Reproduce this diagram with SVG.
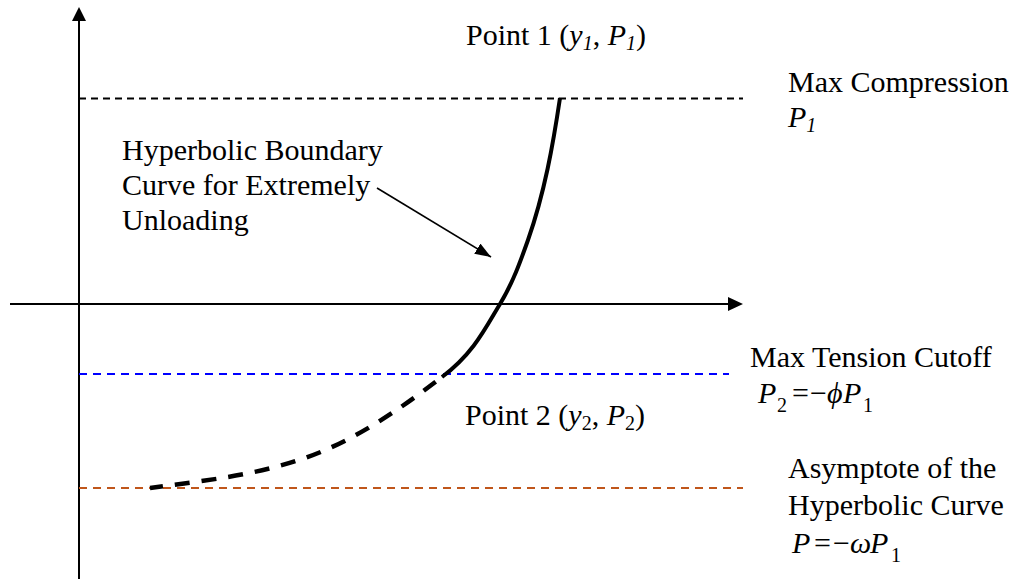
<svg xmlns="http://www.w3.org/2000/svg" width="1016" height="579" viewBox="0 0 1016 579">
<style>
text{font-family:"Liberation Serif","Times New Roman",serif;font-size:30px;fill:#000}
.it{font-style:italic}
.sub{font-size:20px}
.axis{stroke:#000;stroke-width:2;fill:none}
.ref{stroke-width:2;fill:none}
</style>
<defs>
<marker id="ah" markerWidth="16" markerHeight="12" refX="16" refY="6" orient="auto" markerUnits="userSpaceOnUse">
<path d="M0,0 L16,6 L0,12 Z" fill="#000"/>
</marker>
</defs>
<rect width="1016" height="579" fill="#fff"/>
<g id="axes">
<line class="axis" x1="79" y1="579" x2="79" y2="18"/>
<polygon points="79,7 72,21 86,21" fill="#000"/>
<line class="axis" x1="10" y1="304" x2="732" y2="304"/>
<polygon points="743,304 728,297 728,311" fill="#000"/>
</g>
<g id="reference-lines">
<line class="ref" x1="79" y1="98.5" x2="743" y2="98.5" stroke="#000" stroke-width="1.6" stroke-dasharray="7 5"/>
<line class="ref" x1="79" y1="374" x2="729" y2="374" stroke="#0000ff" stroke-dasharray="8 6"/>
<line class="ref" x1="79" y1="488" x2="743" y2="488" stroke="#c0561b" stroke-dasharray="8 6"/>
</g>
<g id="curve">
<path d="M560,98 C553,145 544.5,193 528,240 C520.6,261 512.8,283 500,304 C486,327 474,353 442,377" fill="none" stroke="#000" stroke-width="4"/>
<path d="M442,377 C400,409 355,441 302,459 C253,475.6 202,481 150,488" fill="none" stroke="#000" stroke-width="4.5" stroke-dasharray="15 12" stroke-dashoffset="-8"/>
</g>
<g id="connectors">
<line x1="377" y1="188" x2="491" y2="257" stroke="#000" stroke-width="1.6" marker-end="url(#ah)"/>
</g>
<g id="label-point1">
<text x="466" y="45">Point 1 (<tspan class="it">y</tspan><tspan class="it sub" dy="5">1</tspan><tspan dy="-5">, </tspan><tspan class="it">P</tspan><tspan class="it sub" dy="5">1</tspan><tspan dy="-5">)</tspan></text>
</g>
<g id="label-max-compression">
<text x="788" y="92">Max Compression</text>
<text x="788" y="127"><tspan class="it">P</tspan><tspan class="it sub" dy="5">1</tspan></text>
</g>
<g id="label-hyperbolic">
<text x="122" y="160">Hyperbolic Boundary</text>
<text x="122" y="195">Curve for Extremely</text>
<text x="122" y="230">Unloading</text>
</g>
<g id="label-tension">
<text x="750" y="367">Max Tension Cutoff</text>
<text y="403"><tspan class="it" x="758">P</tspan><tspan class="sub" x="777" dy="9">2</tspan><tspan x="792" dy="-9">=</tspan><tspan x="810">−</tspan><tspan class="it" x="827">ϕ</tspan><tspan class="it" x="843">P</tspan><tspan class="sub" x="863" dy="9">1</tspan></text>
</g>
<g id="label-point2">
<text x="465" y="425">Point 2 (<tspan class="it">y</tspan><tspan class="sub" dy="5">2</tspan><tspan dy="-5">, </tspan><tspan class="it">P</tspan><tspan class="sub" dy="5">2</tspan><tspan dy="-5">)</tspan></text>
</g>
<g id="label-asymptote">
<text x="788" y="478">Asymptote of the</text>
<text x="788" y="515">Hyperbolic Curve</text>
<text y="553"><tspan class="it" x="792">P</tspan><tspan x="814">=</tspan><tspan x="833">−</tspan><tspan class="it" x="850">ω</tspan><tspan class="it" x="870">P</tspan><tspan class="sub" x="891" dy="9">1</tspan></text>
</g>
</svg>
